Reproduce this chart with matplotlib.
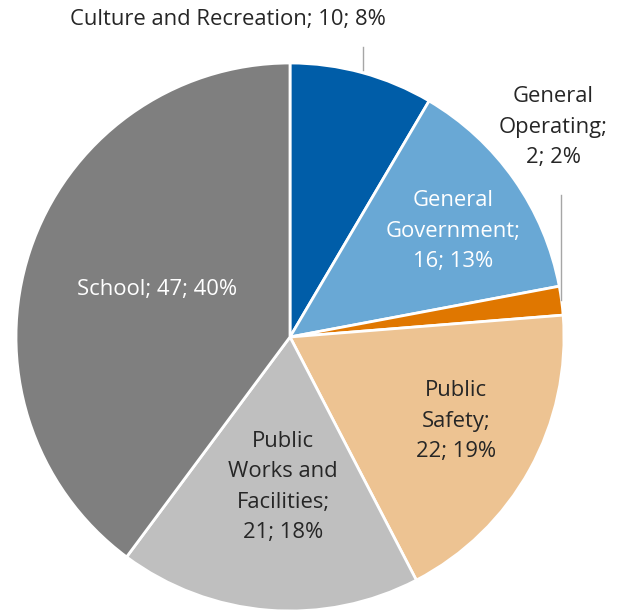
import matplotlib
matplotlib.use("Agg")
import matplotlib.pyplot as plt

categories = ["Culture and Recreation", "General\nGovernment", "General\nOperating", "Public\nSafety",
              "Public\nWorks and\nFacilities", "School"]
values = [10, 16, 2, 22, 21, 47]
pct_labels = ["8%", "13%", "2%", "19%", "18%", "40%"]
colors = ["#005da8", "#69a8d5", "#e07700", "#edc392", "#bfbfbf", "#7f7f7f"]

plt.rcParams['font.family'] = ['Open Sans', 'DejaVu Sans']

W, H = 626, 611
fig = plt.figure(figsize=(W / 100, H / 100), dpi=100)
cx, cy, R = 290, 337, 274
ax = fig.add_axes([(cx - R) / W, (H - cy - R) / H, 2 * R / W, 2 * R / H])
ax.pie(values, colors=colors, startangle=90, counterclock=False, radius=1,
       wedgeprops=dict(edgecolor="white", linewidth=2))
ax.set_xlim(-1, 1)
ax.set_ylim(-1, 1)
ax.set_aspect("equal")
ax.axis("off")

def p2d(px, py):
    return (px - cx) / R, (cy - py) / R

label_pos = [(228, 19), (453, 231), (553, 127), (456, 421), (283, 487), (157, 290)]
text_colors = ["#262626", "white", "#262626", "#262626", "#262626", "white"]
for cat, v, pc, pos, tc in zip(categories, values, pct_labels, label_pos, text_colors):
    if "\n" in cat:
        txt = f"{cat};\n{v}; {pc}"
    else:
        txt = f"{cat}; {v}; {pc}"
    x, y = p2d(*pos)
    ax.text(x, y, txt, ha="center", va="center", fontsize=15.8, color=tc,
            linespacing=1.58, clip_on=False)

# leader lines
for (x0, y0, x1, y1) in [(363, 47, 363, 70), (561, 195, 561, 300)]:
    a, b = p2d(x0, y0)
    c, d = p2d(x1, y1)
    ax.plot([a, c], [b, d], color="#a6a6a6", lw=1, clip_on=False)

fig.savefig("out.png", dpi=100)
